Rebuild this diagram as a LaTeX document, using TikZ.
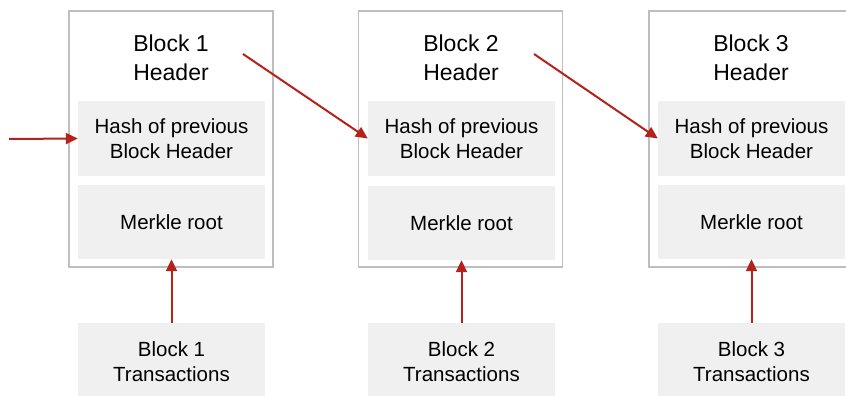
\documentclass[tikz,border=0pt]{standalone}
\usepackage{fontspec}
\setmainfont{Liberation Sans}
\usetikzlibrary{arrows.meta}
\definecolor{boxgray}{RGB}{240,240,240}
\definecolor{framegray}{RGB}{190,190,190}
\definecolor{arrowred}{RGB}{180,34,26}
\tikzset{
  outerbox/.style={draw=framegray, line width=1.5pt, fill=white, minimum width=204pt, minimum height=256pt, inner sep=0pt},
  innerbox/.style={fill=boxgray, minimum width=187pt, minimum height=75pt, inner sep=0pt, align=center, font=\fontsize{20.5pt}{25pt}\selectfont},
  titletext/.style={align=center, inner sep=0pt, font=\fontsize{23pt}{28.5pt}\selectfont},
  link/.style={draw=arrowred, line width=2pt, -{Triangle[length=12pt,width=11pt]}},
}
\begin{document}
\begin{tikzpicture}[x=1pt,y=-1pt]
\clip (0,0) rectangle (846,396);
\fill[white] (0,0) rectangle (846,396);
% blocks
\node[outerbox] (b1) at (171,139) {};
\node[outerbox] (b2) at (460.5,139) {};
\node[outerbox] (b3) at (751,139) {};
% titles
\node[titletext] (t1) at (171,58) {Block 1\\Header};
\node[titletext] (t2) at (461,58) {Block 2\\Header};
\node[titletext] (t3) at (751,58) {Block 3\\Header};
% hash boxes
\node[innerbox] (h1) at (171.5,138.5) {Hash of previous\\Block Header};
\node[innerbox] (h2) at (461.5,138.5) {Hash of previous\\Block Header};
\node[innerbox] (h3) at (751.5,138.5) {Hash of previous\\Block Header};
% merkle boxes
\node[innerbox, minimum height=74pt] (m1) at (171.5,222) {Merkle root};
\node[innerbox, minimum height=74pt] (m2) at (461.5,223) {Merkle root};
\node[innerbox, minimum height=74pt] (m3) at (751.5,222) {Merkle root};
% transaction boxes
\node[innerbox, minimum height=78pt] (x1) at (171.5,362) {Block 1\\Transactions};
\node[innerbox, minimum height=78pt] (x2) at (461.5,362) {Block 2\\Transactions};
\node[innerbox, minimum height=78pt] (x3) at (751.5,362) {Block 3\\Transactions};
% arrows
\coordinate (in) at (9,139);
\coordinate (s1) at (243,54);
\coordinate (s2) at (534,54);
\draw[link] (in) -- (h1.west);
\draw[link] (s1) -- (h2.west);
\draw[link] (s2) -- (h3.west);
\draw[link] (x1.north) -- (m1.south);
\draw[link] (x2.north) -- (m2.south);
\draw[link] (x3.north) -- (m3.south);
\end{tikzpicture}
\end{document}
